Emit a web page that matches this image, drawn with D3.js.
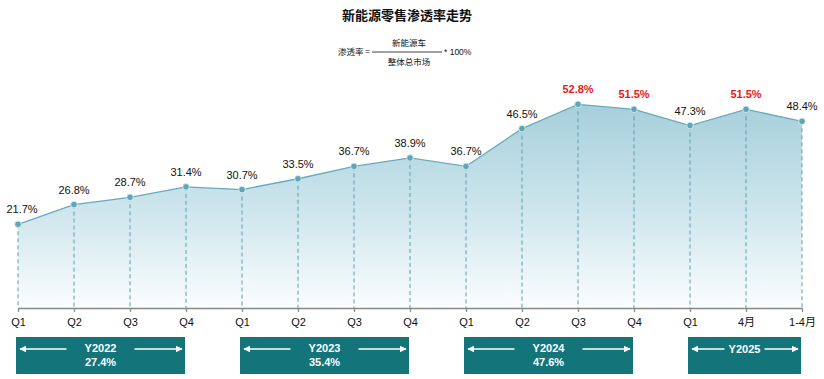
<!DOCTYPE html>
<html>
<head>
<meta charset="utf-8">
<script src="https://cdn.jsdelivr.net/npm/d3@7"></script>
<style>
  html, body { margin: 0; padding: 0; background: #ffffff; }
  svg { display: block; }
</style>
</head>
<body>
<svg id="chart" width="824" height="379"></svg>
<script>
const categories = ["Q1","Q2","Q3","Q4","Q1","Q2","Q3","Q4","Q1","Q2","Q3","Q4","Q1","4月","1-4月"];
const values = [21.7,26.8,28.7,31.4,30.7,33.5,36.7,38.9,36.7,46.5,52.8,51.5,47.3,51.5,48.4];
const highlighted = [10, 11, 13];
const years = ["Y2022","Y2023","Y2024","Y2025"];
const yearShares = ["27.4%","35.4%","47.6%",""];
const yearFirst = [0, 4, 8, 12];
const yearLast = [3, 7, 11, 14];
const titleText = "新能源零售渗透率走势";
const formulaLeft = "渗透率 =";
const formulaTop = "新能源车";
const formulaBottom = "整体总市场";
const formulaRight = "* 100%";

const svg = d3.select("#chart");
const W = 824;
const cjk = "'Noto Sans CJK SC', 'Liberation Sans', Arial, sans-serif";
const latin = "'Liberation Sans', Arial, 'Noto Sans CJK SC', sans-serif";

const idx = d3.range(values.length);
const x = d3.scalePoint().domain(idx).range([18, 802]);
const y = d3.scaleLinear().domain([0, 60]).range([308, 308 - 60 * 3.858]);

// Title
svg.append("text").attr("x", 407).attr("y", 20).attr("text-anchor", "middle")
  .style("font-family", cjk).style("font-size", "13px").style("font-weight", "bold")
  .attr("fill", "#111").text(titleText);

// Formula
const fg = svg.append("g").style("font-family", cjk).style("font-size", "8.5px").attr("fill", "#111");
fg.append("text").attr("x", 370).attr("y", 55).attr("text-anchor", "end").text(formulaLeft);
fg.append("line").attr("x1", 372).attr("x2", 442).attr("y1", 52).attr("y2", 52).attr("stroke", "#111").attr("stroke-width", 0.8);
fg.append("text").attr("x", 409).attr("y", 46).attr("text-anchor", "middle").text(formulaTop);
fg.append("text").attr("x", 409).attr("y", 65).attr("text-anchor", "middle").text(formulaBottom);
fg.append("text").attr("x", 444).attr("y", 55).style("font-family", latin).text(formulaRight);

// Gradient
const defs = svg.append("defs");
const grad = defs.append("linearGradient").attr("id", "areaGrad")
  .attr("gradientUnits", "userSpaceOnUse").attr("x1", 0).attr("x2", 0)
  .attr("y1", y(53)).attr("y2", y(0));
grad.append("stop").attr("offset", "0%").attr("stop-color", "#a6cfdb");
grad.append("stop").attr("offset", "55%").attr("stop-color", "#d0e7ee");
grad.append("stop").attr("offset", "100%").attr("stop-color", "#fbfdfe");

const area = d3.area().x(i => x(i)).y0(y(0)).y1(i => y(values[i]));
svg.append("path").datum(idx).attr("d", area).attr("fill", "url(#areaGrad)");

// Dashed drop lines
svg.append("g").selectAll("line").data(idx).join("line")
  .attr("x1", i => x(i)).attr("x2", i => x(i))
  .attr("y1", i => y(values[i])).attr("y2", y(0))
  .attr("stroke", "#5a9eae").attr("stroke-width", 1).attr("stroke-dasharray", "4,3");

// Line
const line = d3.line().x(i => x(i)).y(i => y(values[i]));
svg.append("path").datum(idx).attr("d", line).attr("fill", "none")
  .attr("stroke", "#6aaabb").attr("stroke-width", 1.3);

// Axis
const axis = d3.axisBottom(x).tickFormat(i => categories[i]).tickSize(4).tickSizeOuter(0).tickPadding(6);
const ag = svg.append("g").attr("transform", `translate(0,${y(0)})`).call(axis);
ag.select(".domain").attr("stroke", "#888").attr("stroke-width", 1.5);
ag.selectAll(".tick line").attr("stroke", "#888").attr("stroke-width", 1.2);
ag.selectAll(".tick text").style("font-family", latin).style("font-size", "11px").attr("fill", "#111");

// Points
svg.append("g").selectAll("circle").data(idx).join("circle")
  .attr("cx", i => x(i)).attr("cy", i => y(values[i])).attr("r", 3.3)
  .attr("fill", "#5ea7b7").attr("stroke", "#e6f3f6").attr("stroke-width", 0.8);

// Value labels
svg.append("g").selectAll("text").data(idx).join("text")
  .attr("x", i => Math.max(x(i), 22)).attr("y", i => y(values[i]) - 11)
  .attr("text-anchor", "middle")
  .style("font-family", latin).style("font-size", "11px")
  .style("font-weight", i => highlighted.includes(i) ? "bold" : "normal")
  .attr("fill", i => highlighted.includes(i) ? "#e8171d" : "#111")
  .text(i => values[i].toFixed(1) + "%");

// Year boxes
defs.append("marker").attr("id", "arrowHead").attr("viewBox", "0 0 10 10")
  .attr("refX", 9).attr("refY", 5).attr("markerWidth", 7).attr("markerHeight", 7)
  .attr("markerUnits", "userSpaceOnUse").attr("orient", "auto-start-reverse")
  .append("path").attr("d", "M0,0 L10,5 L0,10 Z").attr("fill", "#fff");

const boxTop = 337, boxH = 37;
years.forEach((yr, k) => {
  const x0 = x(yearFirst[k]) - 2;
  const x1 = x(yearLast[k]) - 1;
  const cx = (x0 + x1) / 2;
  const g = svg.append("g");
  g.append("rect").attr("x", x0).attr("y", boxTop).attr("width", x1 - x0).attr("height", boxH).attr("fill", "#13747a");
  const two = yearShares[k] !== "";
  const arrowY = 349;
  const gap = two ? 34 : 20;
  const textW = (x1 - x0);
  g.append("line").attr("x1", cx - gap).attr("x2", x0 + 4).attr("y1", arrowY).attr("y2", arrowY)
    .attr("stroke", "#fff").attr("stroke-width", 1.5).attr("marker-end", "url(#arrowHead)");
  g.append("line").attr("x1", cx + gap).attr("x2", x1 - 3).attr("y1", arrowY).attr("y2", arrowY)
    .attr("stroke", "#fff").attr("stroke-width", 1.5).attr("marker-end", "url(#arrowHead)");
  const tg = g.append("g").style("font-family", latin).style("font-size", "11px").style("font-weight", "bold").attr("fill", "#fff").attr("text-anchor", "middle");
  if (two) {
    tg.append("text").attr("x", cx).attr("y", 352).text(yr);
    tg.append("text").attr("x", cx).attr("y", 366).text(yearShares[k]);
  } else {
    tg.append("text").attr("x", cx).attr("y", 353).text(yr);
  }
});
</script>
</body>
</html>
